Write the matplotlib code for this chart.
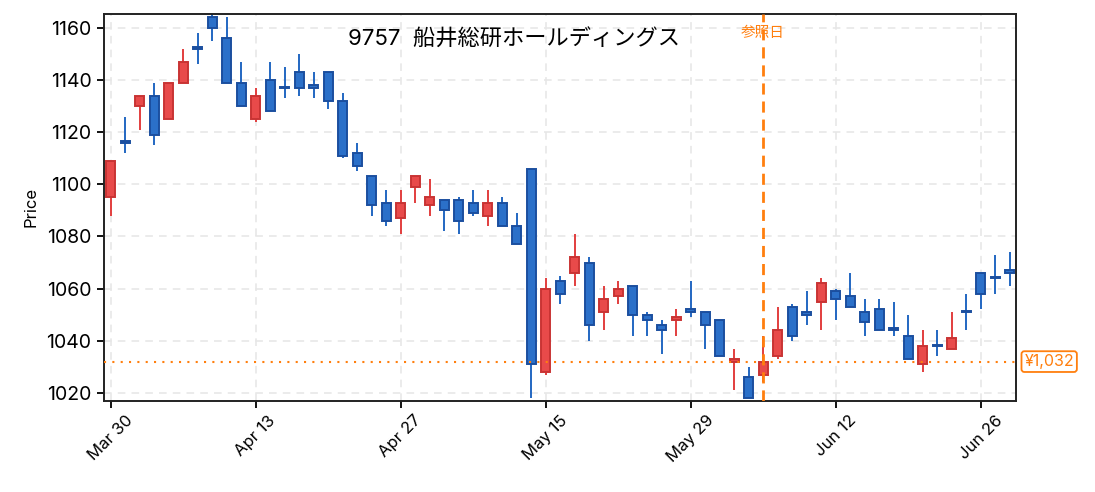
import numpy as np
import pandas as pd
import matplotlib
matplotlib.use("Agg")
import matplotlib.pyplot as plt
import matplotlib.transforms as mtransforms

plt.rcParams['font.family'] = ['Inter', 'Noto Sans CJK JP', 'DejaVu Sans']

title = "9757  船井総研ホールディングス"
holidays = ["2020-04-29", "2020-05-04", "2020-05-05", "2020-05-06"]
dates = pd.bdate_range("2020-03-30", "2020-06-30")
dates = dates[~dates.isin(pd.to_datetime(holidays))]

opens = [1095, 1116, 1130, 1134, 1125, 1139, 1152, 1164, 1156, 1139,
         1125, 1140, 1137, 1143, 1138, 1143, 1132, 1112, 1103, 1093,
         1087, 1099, 1092, 1094, 1094, 1093, 1088, 1093, 1084, 1106,
         1028, 1063, 1066, 1070, 1051, 1057, 1061, 1050, 1046, 1048,
         1052, 1051, 1048, 1032, 1026, 1027, 1034, 1053, 1051, 1055,
         1059, 1057, 1051, 1052, 1045, 1042, 1031, 1038, 1037, 1051,
         1066, 1064, 1067]
highs = [1109, 1126, 1134, 1139, 1139, 1152, 1158, 1166, 1164, 1147,
         1137, 1147, 1145, 1150, 1143, 1143, 1135, 1116, 1103, 1098,
         1098, 1103, 1102, 1094, 1095, 1098, 1098, 1095, 1089, 1106,
         1064, 1065, 1081, 1072, 1061, 1063, 1061, 1051, 1048, 1052,
         1063, 1051, 1048, 1037, 1030, 1042, 1053, 1054, 1059, 1064,
         1060, 1066, 1056, 1056, 1055, 1050, 1044, 1044, 1051, 1058,
         1066, 1073, 1074]
lows = [1088, 1112, 1121, 1115, 1125, 1139, 1146, 1155, 1139, 1130,
        1124, 1128, 1133, 1134, 1133, 1129, 1110, 1105, 1088, 1084,
        1081, 1093, 1088, 1082, 1081, 1088, 1084, 1084, 1077, 1018,
        1027, 1054, 1061, 1040, 1044, 1054, 1042, 1042, 1035, 1042,
        1049, 1037, 1034, 1021, 1018, 1024, 1033, 1040, 1046, 1044,
        1048, 1053, 1042, 1044, 1042, 1033, 1028, 1034, 1037, 1044,
        1052, 1058, 1061]
closes = [1109, 1116, 1134, 1119, 1139, 1147, 1152, 1160, 1139, 1130,
          1134, 1128, 1137, 1137, 1137, 1132, 1111, 1107, 1092, 1086,
          1093, 1103, 1095, 1090, 1086, 1089, 1093, 1084, 1077, 1031,
          1060, 1058, 1072, 1046, 1056, 1060, 1050, 1048, 1044, 1049,
          1051, 1046, 1034, 1033, 1018, 1032, 1044, 1042, 1050, 1062,
          1056, 1053, 1047, 1044, 1044, 1033, 1038, 1038, 1041, 1051,
          1058, 1064, 1066]

ref_date = "2020-06-05"
ref_price = 1032

o = np.array(opens, float)
h = np.array(highs, float)
l = np.array(lows, float)
c = np.array(closes, float)
x = np.arange(len(dates))
up = c > o

fig = plt.figure(figsize=(10.95, 4.92), dpi=100)
ax = fig.add_axes([0.095, 0.185, 0.833, 0.787])

red_f, red_e = "#e84a4a", "#c93434"
blu_f, blu_e = "#2b70c9", "#1b4f9f"
wick_c = np.where(up, "#e23e3e", "#2367c2")
ax.vlines(x, l, h, colors=wick_c, linewidth=1.4, zorder=2)

body_lo = np.minimum(o, c)
body_h = np.maximum(np.abs(c - o), 0.5)
ax.bar(x, body_h, bottom=body_lo, width=0.62,
       color=np.where(up, red_f, blu_f), edgecolor=np.where(up, red_e, blu_e),
       linewidth=1.4, zorder=3)

ref_i = list(dates.strftime("%Y-%m-%d")).index(ref_date)
orange = "#ff7f0e"
ax.axvline(ref_i, color=orange, linewidth=2, linestyle=(0, (4, 2.5)), zorder=4)
ax.axhline(ref_price, color=orange, linewidth=1.5, linestyle=(0, (1, 3)), zorder=4)
ax.text(ref_i, 1158, "参照日", color=orange, fontsize=10.5, ha="center", va="center",
        family=['Noto Sans CJK JP'])

trans = mtransforms.blended_transform_factory(ax.transAxes, ax.transData)
ax.text(1.009, ref_price, "¥{:,}".format(ref_price), transform=trans, color=orange,
        fontsize=11.5, va="center", ha="left",
        bbox=dict(boxstyle="round,pad=0.18", fc="white", ec=orange, lw=1.3))

ax.text(0.45, 0.935, title, transform=ax.transAxes, fontsize=16,
        ha="center", va="center")

ticks = x[::10]
ax.set_xticks(ticks)
ax.set_xticklabels([d.strftime("%b %d").replace(" 0", " ") for d in dates[ticks]],
                   rotation=45, fontsize=12)
ax.set_yticks(np.arange(1020, 1161, 20))
ax.tick_params(axis="y", labelsize=14, pad=4)
ax.tick_params(length=5, width=1.3)
ax.set_xlim(-0.45, 62.45)
ax.set_ylim(1016.9, 1165.4)
ax.set_ylabel("Price", fontsize=12, labelpad=6)
ax.grid(True, linestyle=(0, (5, 4)), color="#e6e6e6", linewidth=1.1, zorder=0)
ax.set_axisbelow(True)
for s in ax.spines.values():
    s.set_linewidth(1.4)
    s.set_color("#222222")

fig.savefig("out.png", dpi=100)
